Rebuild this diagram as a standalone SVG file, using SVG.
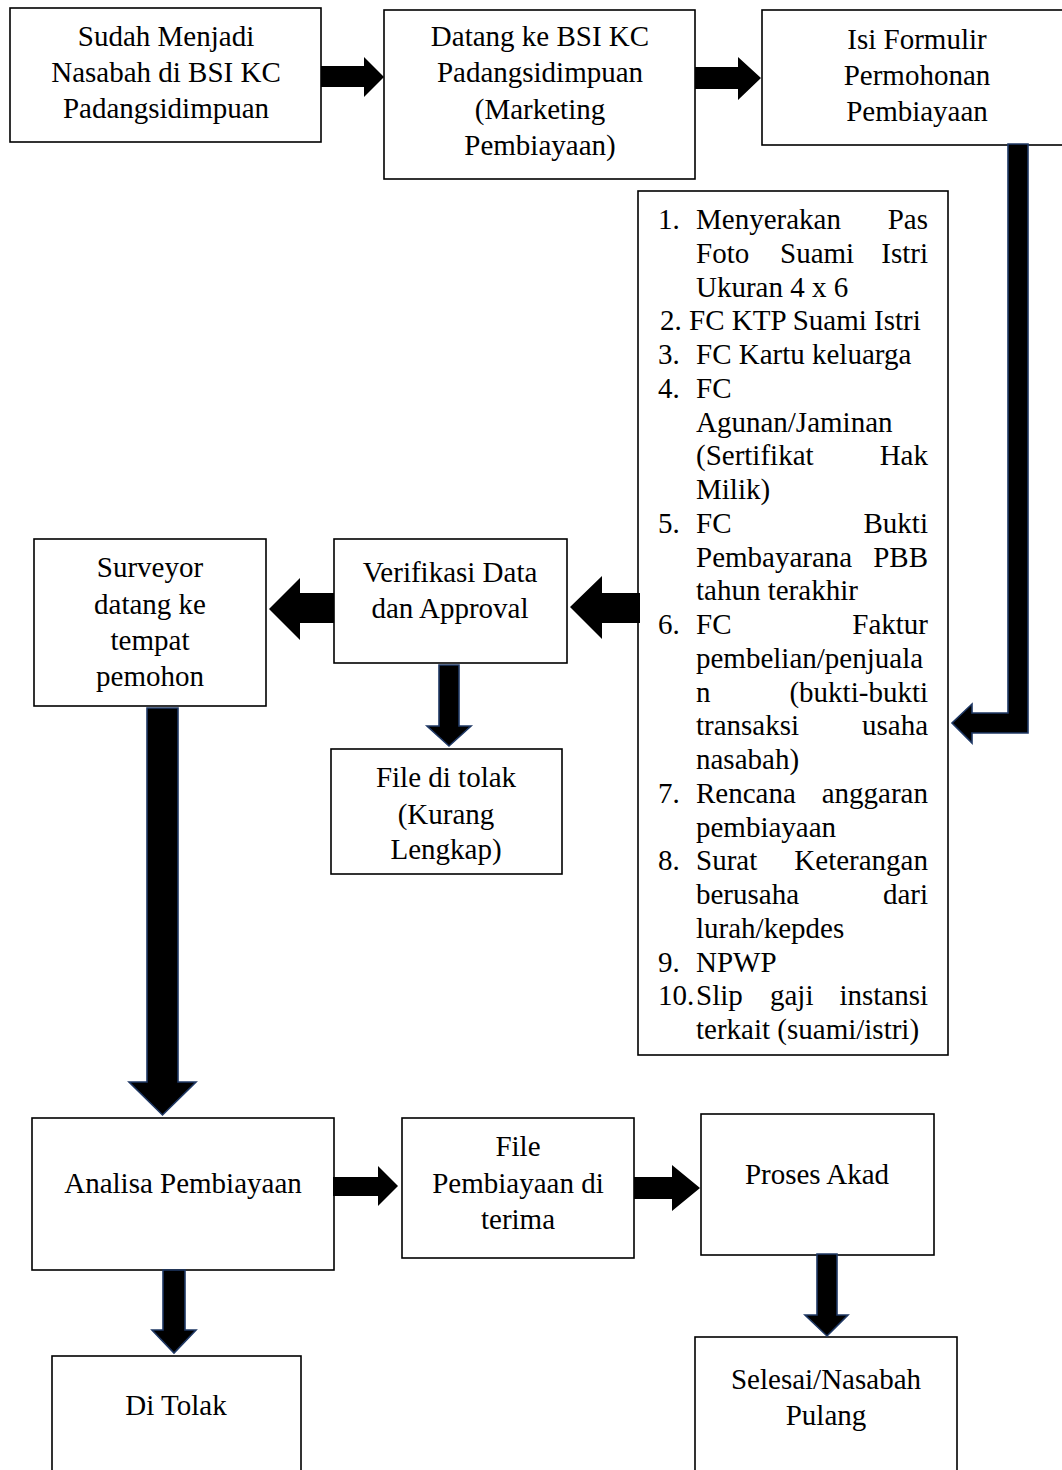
<svg xmlns="http://www.w3.org/2000/svg" width="1062" height="1470" viewBox="0 0 1062 1470">
<style>
.box{fill:#fff;stroke:#000;stroke-width:1.6}
.t{font-family:"Liberation Serif","Times New Roman",serif;font-size:29px;fill:#000;text-anchor:middle}
.l{font-family:"Liberation Serif","Times New Roman",serif;font-size:29px;fill:#000}
.e{text-anchor:end}
.a{fill:#000}
.an{fill:#000;stroke:#1f3864;stroke-width:1.6;stroke-linejoin:miter}
</style>
<rect width="1062" height="1470" fill="#fff"/>
<g id="n1"><rect class="box" x="10" y="8" width="311" height="134"/>
<text class="t" x="166" y="46">Sudah Menjadi</text><text class="t" x="166" y="82">Nasabah di BSI KC</text><text class="t" x="166" y="118">Padangsidimpuan</text></g>
<g id="n2"><rect class="box" x="384" y="10" width="311" height="169"/>
<text class="t" x="540" y="46">Datang ke BSI KC</text><text class="t" x="540" y="82">Padangsidimpuan</text><text class="t" x="540" y="119">(Marketing</text><text class="t" x="540" y="155">Pembiayaan)</text></g>
<g id="n3"><rect class="box" x="762" y="10" width="310" height="135"/>
<text class="t" x="917" y="49">Isi Formulir</text><text class="t" x="917" y="85">Permohonan</text><text class="t" x="917" y="121">Pembiayaan</text></g>
<g id="n4"><rect class="box" x="638" y="191" width="310" height="864"/>
<text class="l" x="658" y="229">1.</text><text class="l" x="696" y="229">Menyerakan</text><text class="l e" x="928" y="229">Pas</text>
<text class="l" x="696" y="262.75">Foto</text><text class="l" x="780" y="262.75">Suami</text><text class="l e" x="928" y="262.75">Istri</text>
<text class="l" x="696" y="296.5">Ukuran 4 x 6</text>
<text class="l" x="660" y="330.25">2. FC KTP Suami Istri</text>
<text class="l" x="658" y="364">3.</text><text class="l" x="696" y="364">FC Kartu keluarga</text>
<text class="l" x="658" y="397.75">4.</text><text class="l" x="696" y="397.75">FC</text>
<text class="l" x="696" y="431.5">Agunan/Jaminan</text>
<text class="l" x="696" y="465.25">(Sertifikat</text><text class="l e" x="928" y="465.25">Hak</text>
<text class="l" x="696" y="499">Milik)</text>
<text class="l" x="658" y="532.75">5.</text><text class="l" x="696" y="532.75">FC</text><text class="l e" x="928" y="532.75">Bukti</text>
<text class="l" x="696" y="566.5">Pembayarana</text><text class="l e" x="928" y="566.5">PBB</text>
<text class="l" x="696" y="600.25">tahun terakhir</text>
<text class="l" x="658" y="634">6.</text><text class="l" x="696" y="634">FC</text><text class="l e" x="928" y="634">Faktur</text>
<text class="l" x="696" y="667.75">pembelian/penjuala</text>
<text class="l" x="696" y="701.5">n</text><text class="l e" x="928" y="701.5">(bukti-bukti</text>
<text class="l" x="696" y="735.25">transaksi</text><text class="l e" x="928" y="735.25">usaha</text>
<text class="l" x="696" y="769">nasabah)</text>
<text class="l" x="658" y="802.75">7.</text><text class="l" x="696" y="802.75">Rencana</text><text class="l e" x="928" y="802.75">anggaran</text>
<text class="l" x="696" y="836.5">pembiayaan</text>
<text class="l" x="658" y="870.25">8.</text><text class="l" x="696" y="870.25">Surat</text><text class="l e" x="928" y="870.25">Keterangan</text>
<text class="l" x="696" y="904">berusaha</text><text class="l e" x="928" y="904">dari</text>
<text class="l" x="696" y="937.75">lurah/kepdes</text>
<text class="l" x="658" y="971.5">9.</text><text class="l" x="696" y="971.5">NPWP</text>
<text class="l" x="658" y="1005.25">10.</text><text class="l" x="696" y="1005.25">Slip</text><text class="l" x="770" y="1005.25">gaji</text><text class="l e" x="928" y="1005.25">instansi</text>
<text class="l" x="696" y="1039">terkait (suami/istri)</text></g>
<g id="n5"><rect class="box" x="334" y="539" width="233" height="124"/>
<text class="t" x="450" y="582">Verifikasi Data</text><text class="t" x="450" y="618">dan Approval</text></g>
<g id="n6"><rect class="box" x="34" y="539" width="232" height="167"/>
<text class="t" x="150" y="577">Surveyor</text><text class="t" x="150" y="614">datang ke</text><text class="t" x="150" y="650">tempat</text><text class="t" x="150" y="686">pemohon</text></g>
<g id="n7"><rect class="box" x="331" y="749" width="231" height="125"/>
<text class="t" x="446" y="787">File di tolak</text><text class="t" x="446" y="824">(Kurang</text><text class="t" x="446" y="859">Lengkap)</text></g>
<g id="n8"><rect class="box" x="32" y="1118" width="302" height="152"/>
<text class="t" x="183" y="1193">Analisa Pembiayaan</text></g>
<g id="n9"><rect class="box" x="402" y="1118" width="232" height="140"/>
<text class="t" x="518" y="1156">File</text><text class="t" x="518" y="1193">Pembiayaan di</text><text class="t" x="518" y="1229">terima</text></g>
<g id="n10"><rect class="box" x="701" y="1114" width="233" height="141"/>
<text class="t" x="817" y="1184">Proses Akad</text></g>
<g id="n11"><rect class="box" x="52" y="1356" width="249" height="130"/>
<text class="t" x="176" y="1415">Di Tolak</text></g>
<g id="n12"><rect class="box" x="695" y="1337" width="262" height="150"/>
<text class="t" x="826" y="1389">Selesai/Nasabah</text><text class="t" x="826" y="1425">Pulang</text></g>
<g id="connectors">
<polygon class="a" points="321,66 364,66 364,57 384,77 364,97 364,87 321,87"/>
<polygon class="a" points="695,67 738,67 738,57 761,78 738,100 738,89 695,89"/>
<polygon class="an" points="1008,144 1028,144 1028,733 972,733 972,743 952,723 972,704 972,713 1008,713"/>
<polygon class="a" points="640,593 602,593 602,576 570,607 602,639 602,623 640,623"/>
<polygon class="a" points="334,593 300,593 300,578 269,609 300,640 300,623 334,623"/>
<polygon class="an" points="439,665 459,665 459,726 471,726 449,746 427,726 439,726"/>
<polygon class="an" points="147,708 178,708 178,1082 196,1082 162.5,1115 129,1082 147,1082"/>
<polygon class="a" points="333,1177 378,1177 378,1166 398,1186 378,1206 378,1196 333,1196"/>
<polygon class="a" points="634,1177 672,1177 672,1165 700,1188 672,1211 672,1199 634,1199"/>
<polygon class="an" points="163,1270 185,1270 185,1330 196,1330 174,1353 152,1330 163,1330"/>
<polygon class="an" points="817,1254 837,1254 837,1315 848,1315 827,1336 805,1315 817,1315"/>
</g>
</svg>
